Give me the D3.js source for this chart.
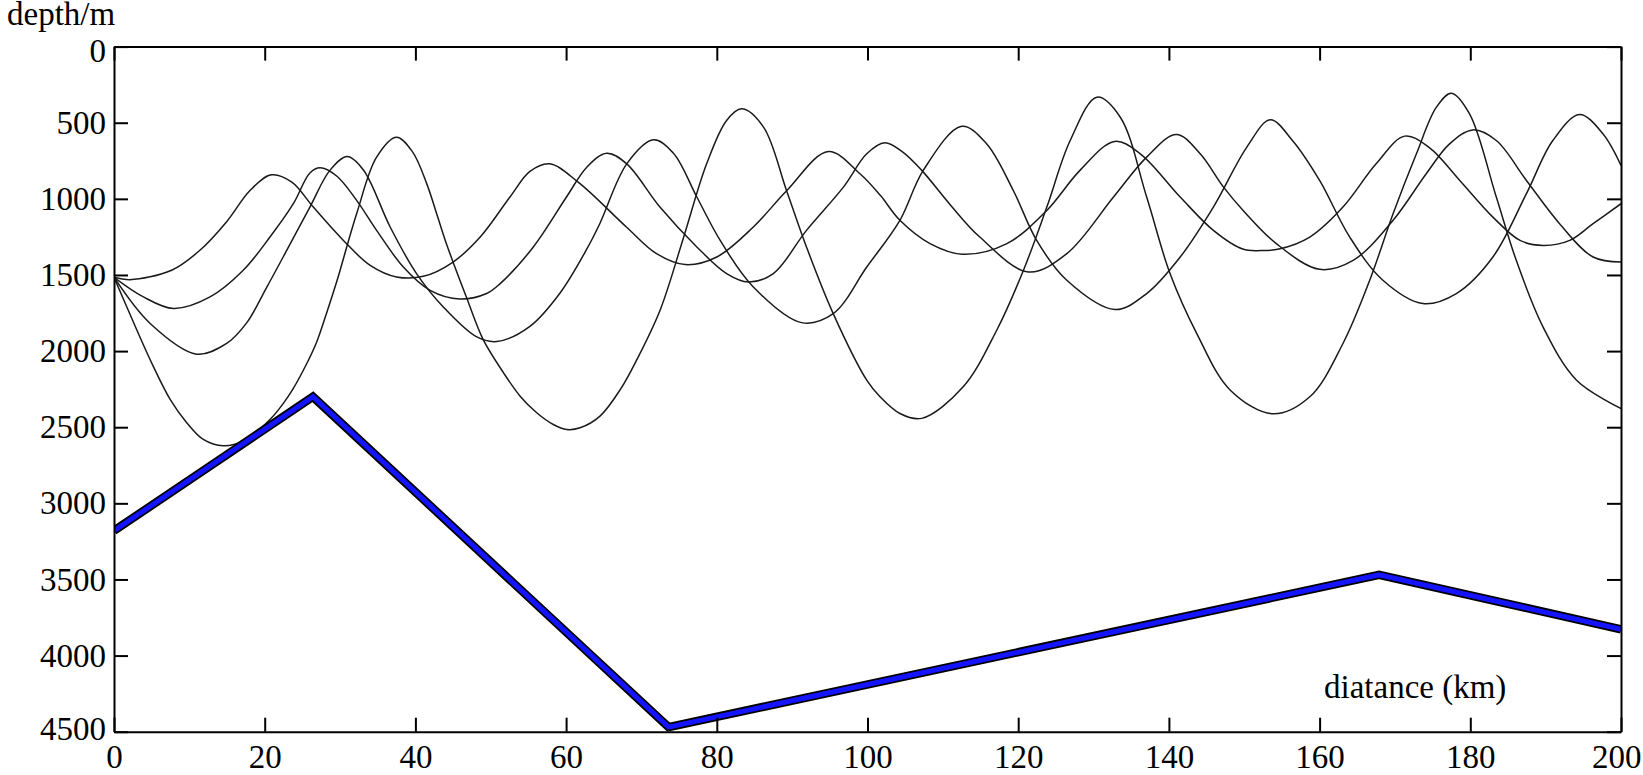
<!DOCTYPE html>
<html>
<head>
<meta charset="utf-8">
<script src="https://cdn.jsdelivr.net/npm/d3@7/dist/d3.min.js"></script>
<style>
  html, body { margin: 0; padding: 0; background: #fff; }
  svg { display: block; }
  text { font-family: "Liberation Serif", "Times New Roman", serif; }
</style>
</head>
<body>
<svg id="chart" width="1643" height="775"></svg>
<script>
// ---- data (distance km, depth m) ----
const xTicks = [0, 20, 40, 60, 80, 100, 120, 140, 160, 180, 200];
const yTicks = [0, 500, 1000, 1500, 2000, 2500, 3000, 3500, 4000, 4500];
const xLabel = "diatance (km)";
const yLabel = "depth/m";

const bathymetry = [[0, 3180], [26.4, 2300], [73.6, 4470], [167.9, 3470], [200, 3827]];

const ray1 = [[0,1515],[2.1,1531],[7.65,1469],[11.4,1338],[14.95,1150],[18.05,945],[20.9,842],[23.6,890],[26.45,1054],[30.45,1273],[34.0,1437],[37.5,1513],[41.05,1509],[45.0,1415],[48.6,1251],[52.55,988],[55.2,820],[57.8,770],[61.6,890],[68.0,1185],[72.0,1360],[75.8,1432],[80.0,1382],[84.85,1185],[89.3,945],[94.8,689],[99.0,835],[101.7,977],[104.3,1141],[108.3,1294],[112.6,1364],[118.5,1294],[123.8,1076],[128.2,813],[132.8,623],[136.2,704],[141.5,988],[145.9,1207],[149.8,1330],[152.2,1340],[154.6,1330],[158.7,1251],[163.1,1054],[167.5,770],[171.3,588],[174.6,665],[178.6,879],[183.0,1120],[186.6,1273],[189.7,1306],[193.2,1273],[196.3,1163],[200,1032]];

const ray2 = [[0,1515],[3.9,1644],[7.9,1720],[12.75,1644],[17.15,1469],[20.7,1251],[23.8,1032],[26.0,830],[27.35,796],[29.55,850],[32.2,1010],[34.85,1207],[38.4,1448],[41.95,1601],[45.9,1658],[49.45,1622],[51.25,1557],[55.65,1316],[60.05,988],[62.75,792],[65.4,700],[68.05,770],[72.45,1054],[77.35,1316],[81.3,1491],[84.2,1546],[87.5,1491],[91.9,1207],[96.8,923],[99.9,704],[102.3,632],[104.6,690],[107.2,813],[111.0,1040],[114.9,1251],[121.35,1480],[126.45,1360],[132.65,988],[137.05,726],[141.0,577],[144.15,704],[147.25,923],[149.85,1076],[154.25,1294],[160.0,1463],[164.45,1404],[169.75,1141],[174.15,835],[177.25,639],[180.35,547],[183.45,617],[187.45,879],[191.85,1163],[196.3,1382],[200,1415]];

const ray3 = [[0,1515],[4.8,1819],[10.95,2020],[14.95,1950],[17.6,1815],[20.3,1578],[22.45,1382],[26.0,1054],[28.65,813],[30.95,722],[33.1,810],[36.65,1185],[40.15,1491],[43.7,1710],[48.15,1907],[50.8,1937],[55.2,1837],[59.2,1618],[62.7,1334],[64.5,1160],[68.05,770],[71.6,612],[74.25,700],[77.35,988],[80.45,1273],[84.85,1579],[91.25,1813],[95.45,1754],[99.9,1448],[104.3,1141],[107.4,813],[112.5,523],[115.8,638],[119.35,945],[122.45,1273],[126.45,1535],[132.85,1727],[137.05,1622],[141.5,1382],[145.9,1054],[150.35,660],[153.45,481],[156.45,620],[160.0,879],[164.0,1251],[168.4,1535],[173.7,1688],[178.15,1622],[183.0,1382],[187.45,966],[190.95,617],[194.5,446],[197.6,573],[200,781]];

const ray4 = [[0,1515],[3.0,1858],[5.2,2099],[7.45,2317],[9.65,2470],[11.85,2580],[14.5,2622],[17.2,2590],[20.7,2449],[22.45,2345],[23.8,2245],[25.55,2085],[26.9,1940],[28.25,1745],[29.55,1545],[32.2,1098],[34.85,726],[37.5,595],[39.6,690],[41.5,900],[42.9,1110],[44.15,1300],[46.8,1650],[49.0,1925],[51.7,2143],[53.9,2296],[56.1,2405],[58.3,2482],[60.1,2515],[61.85,2504],[64.5,2427],[67.2,2252],[69.4,2055],[72.5,1728],[75.55,1260],[78.65,770],[81.3,485],[83.3,409],[86.2,529],[89.25,945],[91.9,1316],[95.45,1754],[99.9,2191],[101.66,2300],[104.3,2410],[107.2,2442],[112.7,2235],[117.15,1863],[120.7,1469],[123.8,1054],[126.9,617],[130.45,332],[133.55,464],[137.05,988],[140.15,1491],[143.7,1885],[148.15,2257],[153.8,2412],[158.7,2300],[163.1,1950],[166.65,1535],[169.75,1098],[172.85,704],[175.5,398],[177.5,306],[179.9,442],[183.45,988],[186.1,1404],[189.65,1841],[194.1,2191],[200,2377]];

const rays = [ray1, ray2, ray3, ray4];

// ---- layout ----
const svg = d3.select("#chart");
const pLeft = 114, pRight = 1621, pTop = 46.6, pBottom = 731.7;
const x = d3.scaleLinear().domain([0, 200]).range([pLeft, pRight]);
const y = d3.scaleLinear().domain([0, 4500]).range([pTop, pBottom]);

svg.append("rect").attr("width", 1643).attr("height", 775).attr("fill", "#fff");

svg.append("defs").append("clipPath").attr("id", "plotclip")
  .append("rect").attr("x", pLeft).attr("y", pTop).attr("width", pRight - pLeft).attr("height", pBottom - pTop);

const plot = svg.append("g").attr("clip-path", "url(#plotclip)");

const line = d3.line().x(d => x(d[0])).y(d => y(d[1])).curve(d3.curveCatmullRom.alpha(0.5));

plot.selectAll("path.ray").data(rays).join("path")
  .attr("class", "ray")
  .attr("d", line)
  .attr("fill", "none")
  .attr("stroke", "#1a1a1a")
  .attr("stroke-width", 1.5);

const bline = d3.line().x(d => x(d[0])).y(d => y(d[1]));
plot.append("path").datum(bathymetry).attr("d", bline)
  .attr("fill", "none").attr("stroke", "#000").attr("stroke-width", 8.5)
  .attr("stroke-linejoin", "miter");
plot.append("path").datum(bathymetry).attr("d", bline)
  .attr("fill", "none").attr("stroke", "#1414ff").attr("stroke-width", 5)
  .attr("stroke-linejoin", "miter");

// ---- axes ----
const fontSize = 33;
function styleAxis(g) {
  g.select(".domain").attr("stroke", "#000").attr("stroke-width", 2);
  g.selectAll(".tick line").attr("stroke", "#000").attr("stroke-width", 2);
  g.selectAll(".tick text").attr("fill", "#000")
    .style("font-family", '"Liberation Serif", "Times New Roman", serif')
    .style("font-size", fontSize + "px");
}

const gx = svg.append("g").attr("transform", `translate(0,${pBottom})`)
  .call(d3.axisBottom(x).tickValues(xTicks).tickFormat(d3.format("d")).tickSizeInner(-14).tickSizeOuter(0).tickPadding(13))
  .call(styleAxis);
// keep the last label inside the picture, as in the reference
gx.selectAll(".tick text").filter(d => d === 200)
  .attr("text-anchor", "end").attr("x", 20);

svg.append("g").attr("transform", `translate(0,${pTop})`)
  .call(d3.axisTop(x).tickValues(xTicks).tickFormat("").tickSizeInner(-14).tickSizeOuter(0))
  .call(styleAxis);
const gy = svg.append("g").attr("transform", `translate(${pLeft},0)`)
  .call(d3.axisLeft(y).tickValues(yTicks).tickFormat(d3.format("d")).tickSizeInner(-14).tickSizeOuter(0).tickPadding(8))
  .call(styleAxis);
// the end labels sit slightly inside the frame in the reference
gy.selectAll(".tick text").filter(d => d === 0).attr("dy", "0.45em");
gy.selectAll(".tick text").filter(d => d === 4500).attr("dy", "0.25em");

svg.append("g").attr("transform", `translate(${pRight},0)`)
  .call(d3.axisRight(y).tickValues(yTicks).tickFormat("").tickSizeInner(-14).tickSizeOuter(0))
  .call(styleAxis);

// ---- titles ----
svg.append("text").attr("x", 7).attr("y", 25)
  .style("font-size", fontSize + "px").attr("fill", "#000").text(yLabel);
svg.append("text").attr("x", 1324).attr("y", 698)
  .style("font-size", fontSize + "px").attr("fill", "#000").text(xLabel);
</script>
</body>
</html>
